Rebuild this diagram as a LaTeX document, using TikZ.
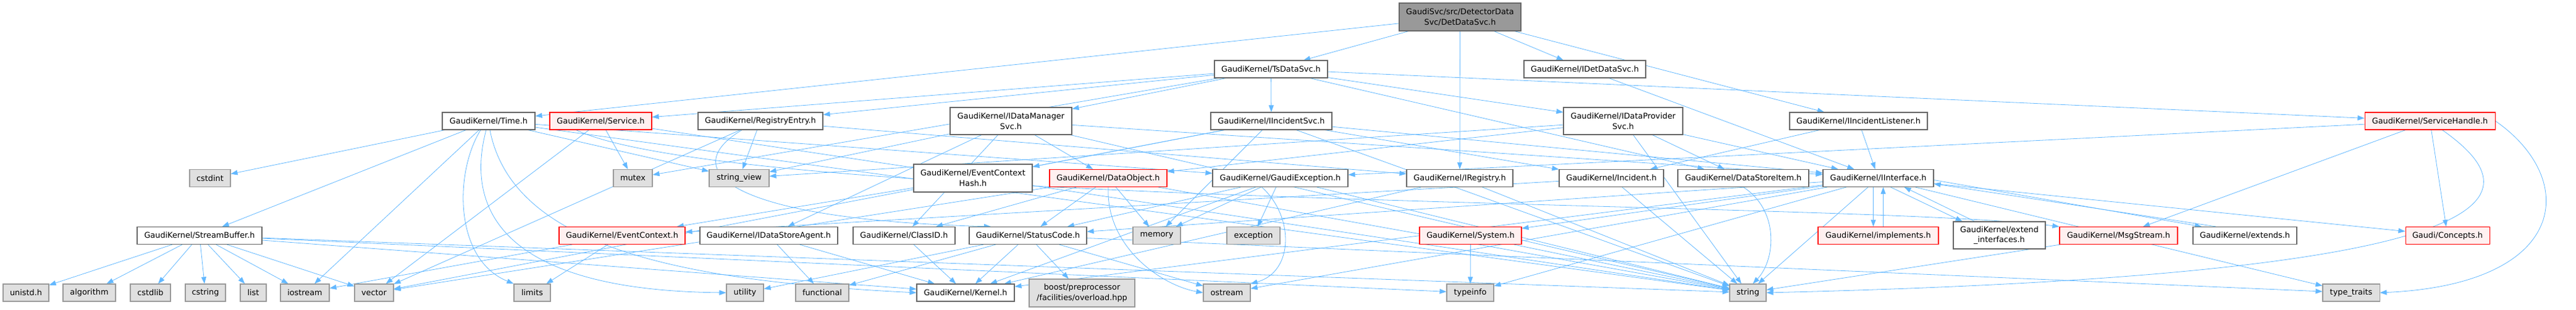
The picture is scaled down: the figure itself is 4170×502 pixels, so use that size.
\documentclass[tikz,border=0pt]{standalone}
\usepackage{fontspec}
\setmainfont{DejaVu Sans}
\usetikzlibrary{arrows.meta}
\definecolor{edgecol}{HTML}{63B8FF}
\definecolor{wborder}{HTML}{666666}
\definecolor{gfill}{HTML}{E0E0E0}
\definecolor{gborder}{HTML}{999999}
\definecolor{rfill}{HTML}{FFF0F0}
\definecolor{rborder}{HTML}{FF0000}
\definecolor{rootfill}{HTML}{999999}
\pgfdeclarelayer{bg}
\pgfsetlayers{bg,main}
\tikzset{
  base/.style={draw, inner sep=0pt, line width=1.1pt, align=center,
    font=\fontsize{12.85}{16.7}\selectfont, minimum height=28pt},
  wnode/.style={base, draw=wborder, fill=white},
  gnode/.style={base, draw=gborder, fill=gfill},
  rnode/.style={base, draw=rborder, fill=rfill},
  rootnode/.style={base, draw=wborder, fill=rootfill},
  edge/.style={draw=edgecol, line width=0.8pt, -{Triangle[length=11pt,width=8pt]}}
}
\begin{document}
\begin{tikzpicture}[x=1pt,y=-1pt]
\useasboundingbox (0,0) rectangle (4170,502);
% row 0
\node[rootnode, minimum width=197, minimum height=45] (root) at (2363.5,27.5) {GaudiSvc/src/DetectorData\\Svc/DetDataSvc.h};
% row 1
\node[wnode, minimum width=183] (ts) at (2057.5,112) {GaudiKernel/TsDataSvc.h};
\node[wnode, minimum width=197] (idet) at (2565.5,112) {GaudiKernel/IDetDataSvc.h};
% row 2
\node[wnode, minimum width=150] (time) at (791,196) {GaudiKernel/Time.h};
\node[rnode, minimum width=165] (service) at (972.5,196) {GaudiKernel/Service.h};
\node[wnode, minimum width=202] (regentry) at (1231,196) {GaudiKernel/RegistryEntry.h};
\node[wnode, minimum width=197, minimum height=44] (idms) at (1636.5,196) {GaudiKernel/IDataManager\\Svc.h};
\node[wnode, minimum width=196] (iisvc) at (2058,196) {GaudiKernel/IIncidentSvc.h};
\node[wnode, minimum width=193, minimum height=44] (idps) at (2627.5,196) {GaudiKernel/IDataProvider\\Svc.h};
\node[wnode, minimum width=223] (iil) at (3008.5,196) {GaudiKernel/IIncidentListener.h};
\node[rnode, minimum width=211] (sh) at (3933.5,196) {GaudiKernel/ServiceHandle.h};
% row 3
\node[gnode, minimum width=66] (cstdint) at (340,288.5) {cstdint};
\node[gnode, minimum width=63] (mutex) at (1024.5,288.5) {mutex};
\node[gnode, minimum width=97] (strview) at (1196.5,288.5) {string\_view};
\node[wnode, minimum width=192, minimum height=45] (ech) at (1575,288.5) {GaudiKernel/EventContext\\Hash.h};
\node[rnode, minimum width=190] (dobj) at (1794,288.5) {GaudiKernel/DataObject.h};
\node[wnode, minimum width=219] (gexc) at (2072.5,288.5) {GaudiKernel/GaudiException.h};
\node[wnode, minimum width=172] (ireg) at (2363,288.5) {GaudiKernel/IRegistry.h};
\node[wnode, minimum width=169] (inc) at (2608.5,288.5) {GaudiKernel/Incident.h};
\node[wnode, minimum width=212] (dsi) at (2822,288.5) {GaudiKernel/DataStoreItem.h};
\node[wnode, minimum width=179] (iint) at (3040.5,288.5) {GaudiKernel/IInterface.h};
% row 4
\node[wnode, minimum width=202] (sbuf) at (323,381.5) {GaudiKernel/StreamBuffer.h};
\node[rnode, minimum width=204] (ectx) at (1007,381.5) {GaudiKernel/EventContext.h};
\node[wnode, minimum width=223] (idsa) at (1244.5,381.5) {GaudiKernel/IDataStoreAgent.h};
\node[wnode, minimum width=165] (cid) at (1463.5,381.5) {GaudiKernel/ClassID.h};
\node[wnode, minimum width=190] (sc) at (1664,381.5) {GaudiKernel/StatusCode.h};
\node[gnode, minimum width=77] (memory) at (1872.5,381.5) {memory};
\node[gnode, minimum width=86] (exception) at (2029,381.5) {exception};
\node[rnode, minimum width=165] (system) at (2380.5,381.5) {GaudiKernel/System.h};
\node[rnode, minimum width=195] (impl) at (3040.5,381.5) {GaudiKernel/implements.h};
\node[wnode, minimum width=149, minimum height=44] (extif) at (3236.5,381) {GaudiKernel/extend\\\_interfaces.h};
\node[rnode, minimum width=191] (msg) at (3429.5,381.5) {GaudiKernel/MsgStream.h};
\node[wnode, minimum width=168] (extends) at (3634,381.5) {GaudiKernel/extends.h};
\node[rnode, minimum width=136] (concepts) at (3962,381.5) {Gaudi/Concepts.h};
% row 5
\node[gnode, minimum width=74] (unistd) at (42,474) {unistd.h};
\node[gnode, minimum width=85] (algorithm) at (144.5,474) {algorithm};
\node[gnode, minimum width=65] (cstdlib) at (243.5,474) {cstdlib};
\node[gnode, minimum width=65] (cstring) at (332.5,474) {cstring};
\node[gnode, minimum width=42] (list) at (410,474) {list};
\node[gnode, minimum width=79] (iostream) at (493.5,474) {iostream};
\node[gnode, minimum width=63] (vector) at (605.5,474) {vector};
\node[gnode, minimum width=59] (limits) at (861.5,474) {limits};
\node[gnode, minimum width=60] (utility) at (1206,474) {utility};
\node[gnode, minimum width=86] (functional) at (1331,474) {functional};
\node[wnode, minimum width=158] (kernel) at (1563,474) {GaudiKernel/Kernel.h};
\node[gnode, minimum width=171, minimum height=45] (boost) at (1751.5,474.5) {boost/preprocessor\\/facilities/overload.hpp};
\node[gnode, minimum width=76] (ostream) at (1986,474) {ostream};
\node[gnode, minimum width=76] (typeinfo) at (2380,474) {typeinfo};
\node[gnode, minimum width=59] (string) at (2829.5,474) {string};
\node[gnode, minimum width=92] (typetraits) at (3806,474) {type\_traits};

\begin{pgfonlayer}{bg}
\foreach \a/\b in {root/ts, root/idet, root/ireg, root/iil, root/time,
  ts/regentry, ts/service, ts/mutex, ts/idms, ts/iisvc, ts/idps, ts/dsi, ts/sh,
  idet/iint, iil/iint, iil/inc,
  time/cstdint, time/sbuf, time/iostream, time/string, time/gexc, time/strview,
  service/mutex, service/vector, service/string,
  regentry/strview, regentry/vector, regentry/ireg,
  idms/cid, idms/dobj, idms/idsa, idms/strview, idms/string, idms/iint,
  iisvc/inc, iisvc/iint, iisvc/memory, iisvc/string, iisvc/vector, iisvc/ech,
  idps/dsi, idps/iint, idps/dobj, idps/string, idps/strview,
  dobj/cid, dobj/sc, dobj/memory, dobj/string, dobj/vector,
  gexc/exception, gexc/sc, gexc/memory, gexc/string, gexc/kernel,
  ireg/kernel, ireg/string, inc/ectx, inc/string, ech/ectx,
  iint/kernel, iint/sc, iint/system, iint/ostream, iint/string, iint/typeinfo, iint/typetraits, iint/concepts,
  sh/concepts, sh/msg, sh/gexc,
  msg/string, system/typeinfo, system/string,
  sc/kernel, sc/boost, sc/ostream, sc/utility, sc/functional, sc/typetraits,
  cid/kernel, idsa/functional, idsa/kernel, ectx/limits, ectx/iostream,
  sbuf/unistd, sbuf/algorithm, sbuf/cstdlib, sbuf/cstring, sbuf/list, sbuf/iostream, sbuf/vector, sbuf/kernel, sbuf/string, sbuf/typeinfo}
  {\draw[edge] (\a) -- (\b);}
% curved connectors
\draw[edge] ([xshift=-13pt]time.south) .. controls (735,280) and (735,420) .. (limits.north west);
\draw[edge] ([xshift=-4pt]time.south) .. controls (755,330) and (800,470) .. (utility.west);
\draw[edge] ([xshift=2pt]time.south) .. controls (830,400) and (1100,455) .. (kernel.west);
\draw[edge] (dsi.south) .. controls (2880,340) and (2875,420) .. ([xshift=8pt]string.north);
\draw[edge] (sh.east) .. controls (4175,290) and (4160,460) .. (typetraits.east);
\draw[edge] ([xshift=20pt]sh.south) .. controls (4110,320) and (4080,445) .. (string.east);
\draw[edge] ([xshift=-30pt]gexc.south) .. controls (2095,350) and (2095,440) .. (ostream.north east);
\draw[edge] (dobj.south) .. controls (1790,400) and (1880,462) .. (ostream.west);
\draw[edge] ([xshift=-30pt]regentry.south) .. controls (1100,270) and (1160,355) .. ([xshift=-60pt]sc.north);
\draw[edge] ([xshift=-40pt]service.south) .. controls (1200,335) and (3000,325) .. (msg.north west);
% bidirectional pairs
\draw[edge] ([xshift=-8pt]iint.south) -- ([xshift=-8pt]impl.north);
\draw[edge] ([xshift=8pt]impl.north) -- ([xshift=8pt]iint.south);
\draw[edge] ([xshift=20pt]iint.south) -- ([xshift=-60pt]extif.north);
\draw[edge] ([xshift=-40pt]extif.north) -- ([xshift=42pt]iint.south);
\draw[edge] ([yshift=-3pt]iint.east) -- ([xshift=-70pt]extends.north);
\draw[edge] ([xshift=-47pt]extends.north) -- ([yshift=-9pt]iint.east);
\end{pgfonlayer}
\end{tikzpicture}
\end{document}
